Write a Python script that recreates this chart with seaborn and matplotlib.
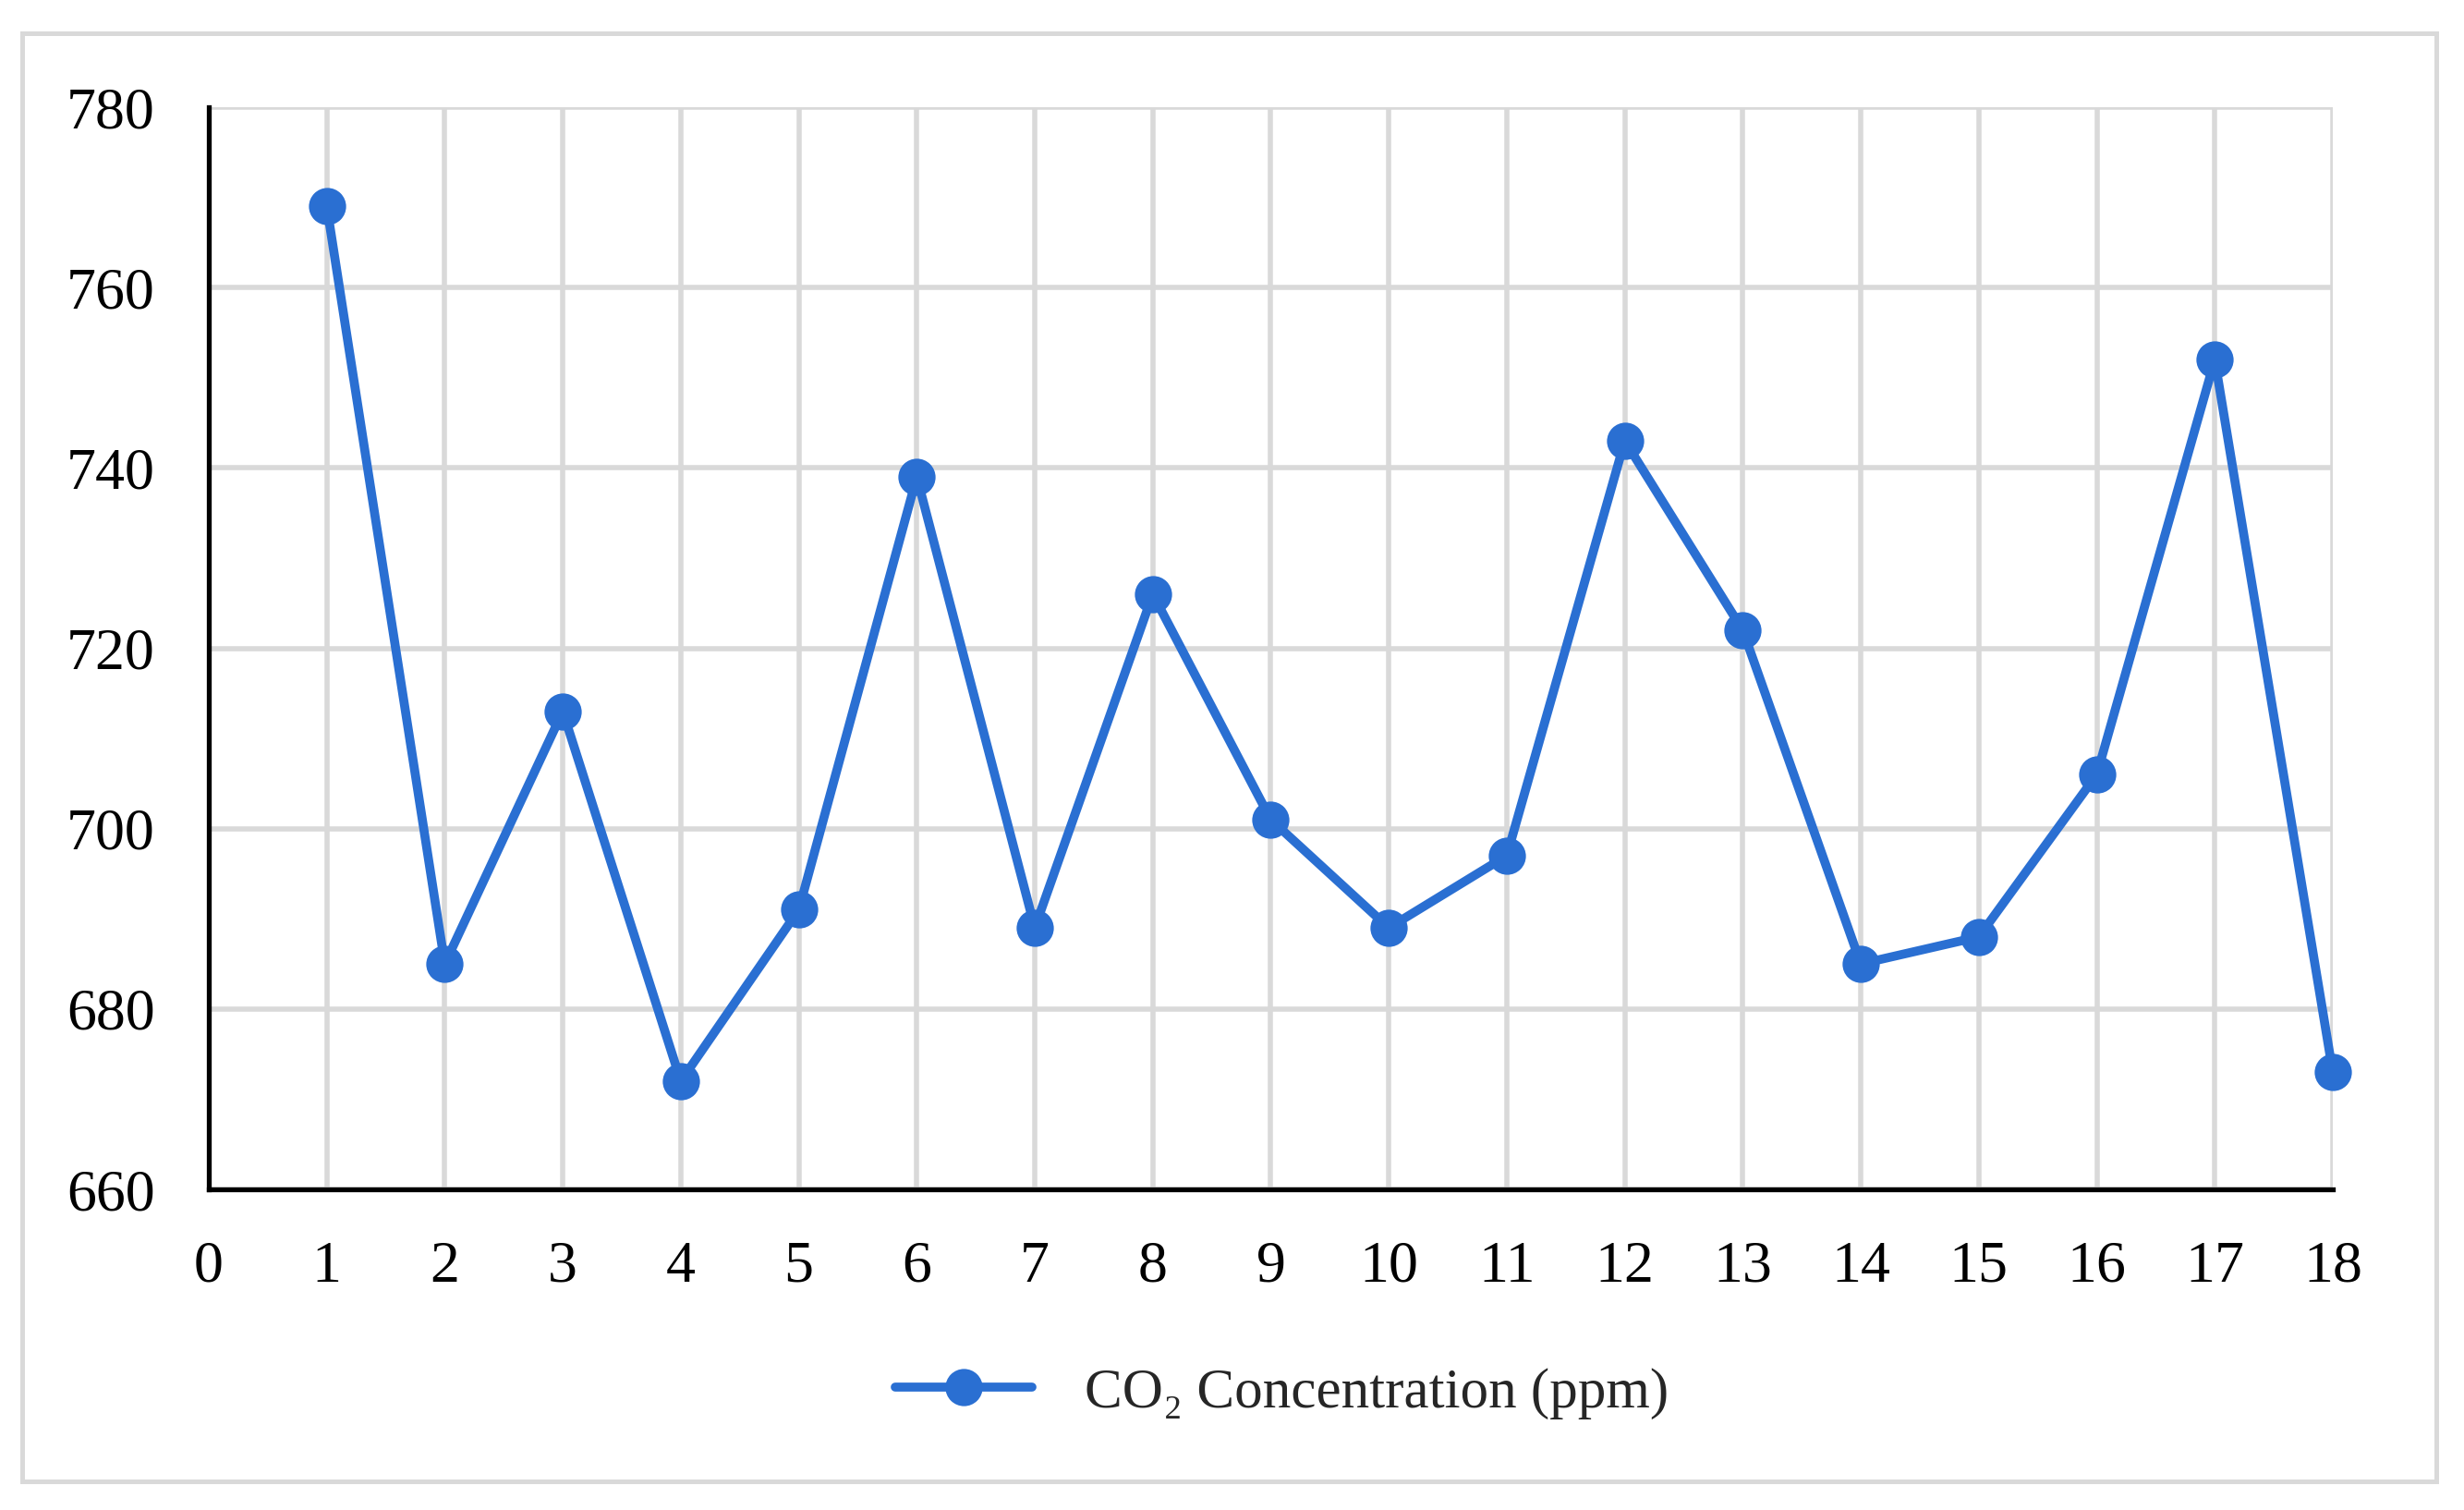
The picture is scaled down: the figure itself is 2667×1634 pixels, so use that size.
import matplotlib
matplotlib.use("Agg")
import matplotlib.pyplot as plt
import seaborn as sns
import pandas as pd
from matplotlib.patches import Rectangle

sample = list(range(1, 19))
co2_ppm = [769, 685, 713, 672, 691, 739, 689, 726, 701, 689, 697, 743, 722, 685, 688, 706, 752, 673]
series_label = "CO\u2082 Concentration (ppm)"
x_ticks = list(range(0, 19))
y_ticks = [660, 680, 700, 720, 740, 760, 780]

df = pd.DataFrame({"x": sample, "y": co2_ppm, "series": series_label})

sns.set_theme(style="white")
plt.rcParams["font.family"] = ["Liberation Serif", "DejaVu Serif"]

blue = "#2A6FD2"
grid_c = "#D9D9D9"

fig = plt.figure(figsize=(2667 / 200, 1634 / 200), dpi=200)
ax = fig.add_axes([226 / 2667, 1 - 1287 / 1634, (2525 - 226) / 2667, (1287 - 116) / 1634])

sns.lineplot(data=df, x="x", y="y", hue="series", palette=[blue], marker="o",
             markersize=14.5, linewidth=3.5, markeredgewidth=0, ax=ax, zorder=5,
             clip_on=False)

ax.set_xlim(0, 18)
ax.set_ylim(660, 780)
ax.set_xticks(x_ticks)
ax.set_yticks(y_ticks)
ax.set_xlabel("")
ax.set_ylabel("")
ax.grid(True, color=grid_c, linewidth=2.0)
ax.set_axisbelow(True)
for s in ["top", "right"]:
    ax.spines[s].set_visible(False)
for s in ["left", "bottom"]:
    ax.spines[s].set_color("black")
    ax.spines[s].set_linewidth(1.9)
ax.tick_params(axis="both", direction="in", length=6.5, width=1.9, color="black",
               labelsize=23, labelcolor="black")
ax.tick_params(axis="x", pad=20)
ax.tick_params(axis="y", pad=21)

handles, labels = ax.get_legend_handles_labels()
ax.legend(handles, labels, loc="center left", bbox_to_anchor=(969 / 2667, 1 - 1508 / 1634),
          bbox_transform=fig.transFigure, frameon=False, fontsize=22,
          handlelength=2.42, handletextpad=0.93, borderpad=0, borderaxespad=0)

fig.patches.append(Rectangle((24 / 2667, 1 - 1603 / 1634), (2637 - 24) / 2667, (1603 - 36) / 1634,
                             transform=fig.transFigure, fill=False, edgecolor=grid_c,
                             linewidth=1.8, zorder=0))

fig.savefig("out.png", dpi=200, facecolor="white")
